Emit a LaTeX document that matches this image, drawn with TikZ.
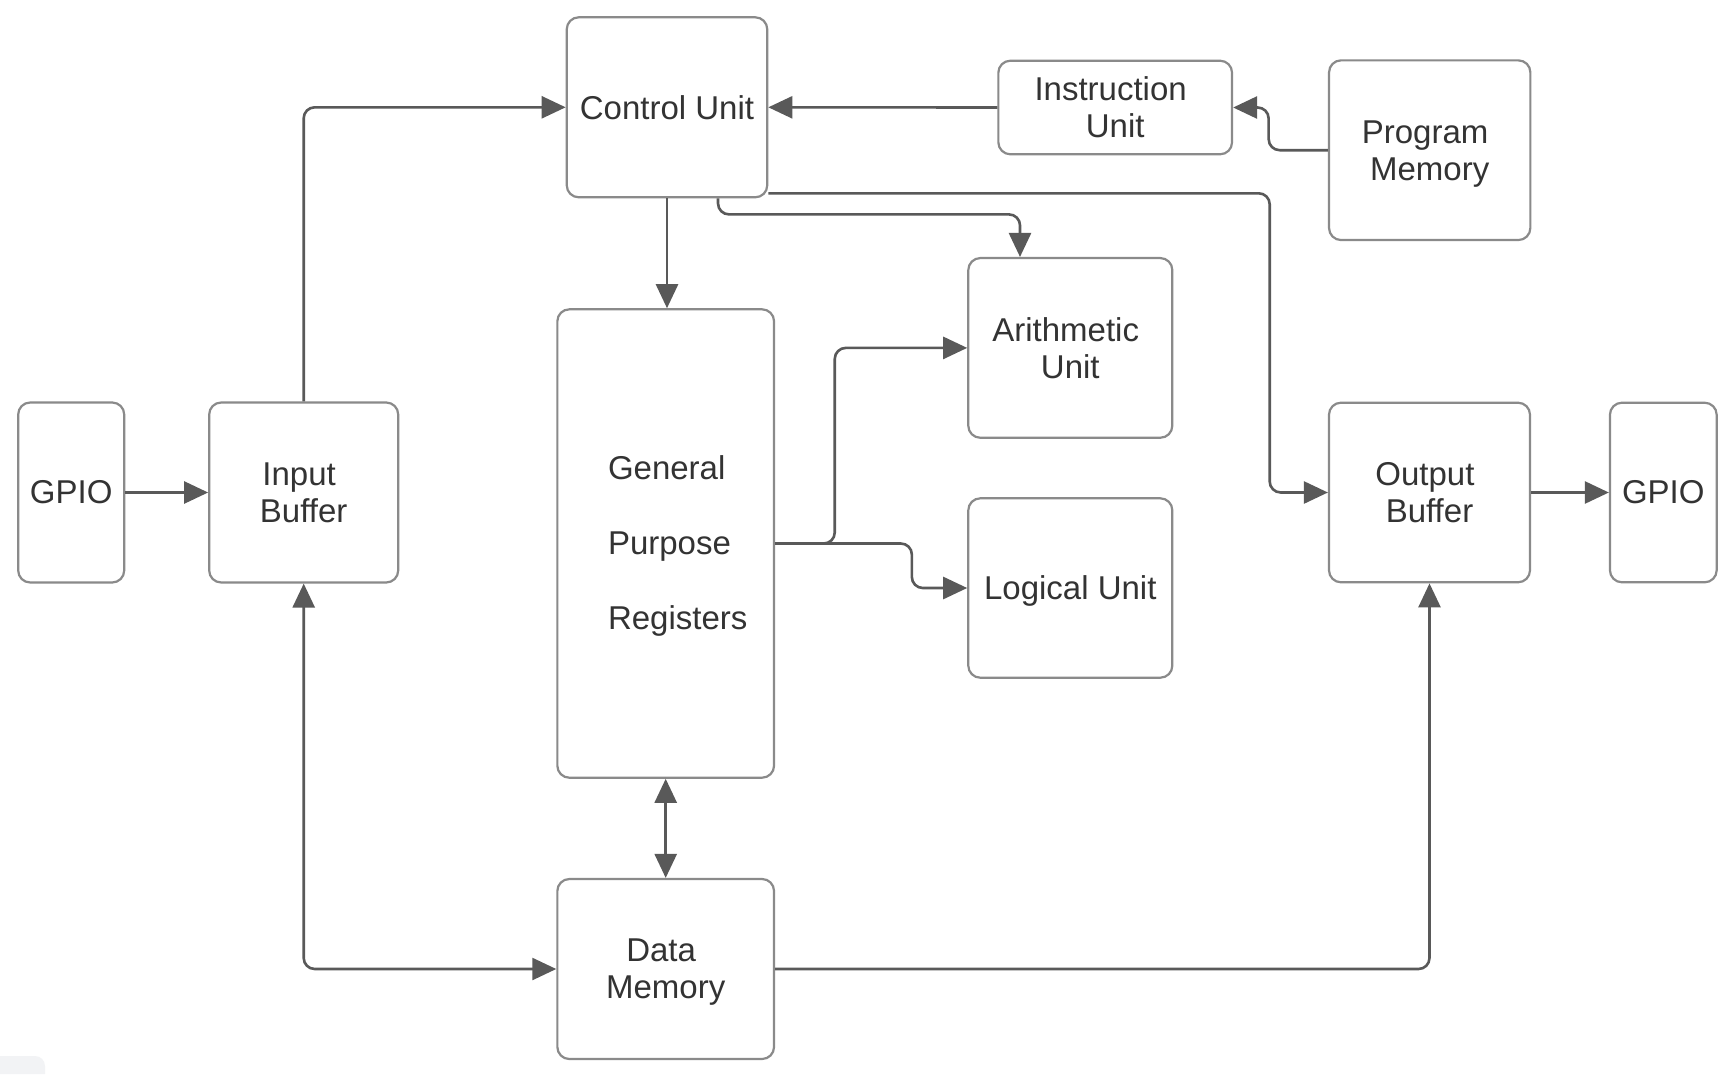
\documentclass[tikz,border=0pt]{standalone}
\usepackage{fontspec}
\setmainfont{Liberation Sans}
\usetikzlibrary{arrows.meta,calc}
\definecolor{boxline}{HTML}{8A8A8A}
\definecolor{connc}{HTML}{595959}
\definecolor{txt}{HTML}{333333}
\definecolor{badge}{HTML}{F2F3F5}
\newcommand\nodepth[1]{\raisebox{0pt}[\height][0pt]{#1}}
\newcommand\tsp{\hspace*{0.278em}}
\begin{document}
\begin{tikzpicture}[x=1pt,y=-1pt,
  blk/.style={draw=boxline, line width=2.2pt, rounded corners=12pt, fill=white,
    text=txt, font=\fontsize{33}{37}\selectfont, align=center, inner sep=0pt},
  lbl/.style={text=txt, inner sep=0pt},
  connarr/.style={draw=connc, line width=2.6pt, rounded corners=11pt,
    -{Triangle[length=24pt,width=22pt]}},
  dblarr/.style={draw=connc, line width=2.6pt, rounded corners=11pt,
    {Triangle[length=24pt,width=22pt]}-{Triangle[length=24pt,width=22pt]}}]
\useasboundingbox (0,0) rectangle (1732,1074);
\fill[white] (0,0) rectangle (1732,1074);
% faint badge bottom-left
\fill[badge] (0,1074) -- (0,1056) [rounded corners=10pt] -- (45,1056) [sharp corners] -- (45,1074) -- cycle;

% boxes
\node[blk, minimum width=106pt, minimum height=180pt] (gpioL) at (71.2,492.5) {GPIO};
\node[blk, minimum width=189pt, minimum height=180pt] (inbuf) at (303.7,492.5) {Input\tsp\\Buffer};
\node[blk, minimum width=200.5pt, minimum height=180pt] (cu) at (667,107.3) {Control Unit};
\node[blk, minimum width=233.7pt, minimum height=93.6pt] (iu) at (1115.2,107.5) {Instruction\tsp\\Unit};
\node[blk, minimum width=201.3pt, minimum height=179.7pt] (pm) at (1429.7,150.2) {Program\tsp\\\nodepth{Memory}};
\node[blk, minimum width=204pt, minimum height=179.7pt] (au) at (1070.3,347.9) {Arithmetic\tsp\\Unit};
\node[blk, minimum width=204pt, minimum height=179.4pt] (lu) at (1070.3,588) {\nodepth{Logical Unit}};
\node[blk, minimum width=216.7pt, minimum height=468.4pt] (gpr) at (665.7,543.5) {};
\node[lbl, font=\fontsize{33}{75}\selectfont, align=left] (gprtext) at (677.7,543) {General\\Purpose\\\nodepth{Registers}};
\node[blk, minimum width=216.7pt, minimum height=180pt] (dm) at (665.7,969) {Data\tsp\\\nodepth{Memory}};
\node[blk, minimum width=201pt, minimum height=179.6pt] (ob) at (1429.5,492.5) {Output\tsp\\Buffer};
\node[blk, minimum width=106.7pt, minimum height=179.6pt] (gpioR) at (1663.3,492.5) {GPIO};

\coordinate (j1) at (1269.7,193.3);

% connectors
\draw[connarr] (gpioL.east) -- (inbuf.west);
\draw[connarr] (inbuf.north) |- (cu.west);
\draw[connarr] (iu.west) -- (cu.east);
\draw[connarr] (pm.west) -- ++(-59.3,0) |- (iu.east);
\draw[connarr] (cu.south) -- (cu.south |- gpr.north);
\draw[connarr] ([xshift=51pt]cu.south) -- ++(0,16) -| ([xshift=-50.3pt]au.north);
\draw[connarr] ([yshift=-86pt]cu.east) -- (j1) |- (ob.west);
\draw[connarr] (gpr.east) -- ++(59.6,0) |- (au.west);
\draw[connarr] (gpr.east) -- ++(136.7,0) |- (lu.west);
\draw[dblarr] (gpr.south) -- (dm.north);
\draw[dblarr] (inbuf.south) |- (dm.west);
\draw[connarr] (dm.east) -| (ob.south);
\draw[connarr] (ob.east) -- (gpioR.west);
\end{tikzpicture}
\end{document}
